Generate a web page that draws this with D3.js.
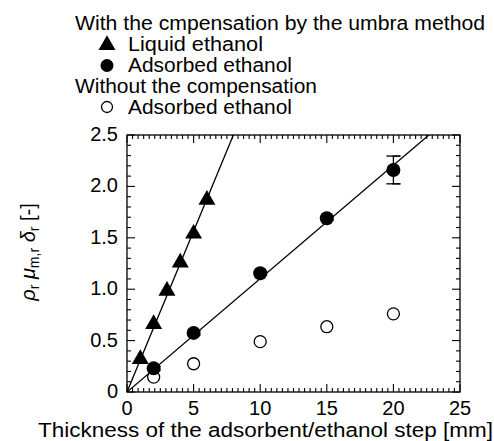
<!DOCTYPE html>
<html><head><meta charset="utf-8">
<script src="https://cdn.jsdelivr.net/npm/d3@7"></script>
<style>body{margin:0;background:#fff}svg{display:block}text{font-family:"Liberation Sans",Arial,sans-serif;fill:#000}</style>
</head><body>
<script>
const liquidX = [1, 2, 3, 4, 5, 6];
const liquidY = [0.31, 0.65, 0.975, 1.25, 1.53, 1.86];
const adsX = [2, 5, 10, 15, 20];
const adsY = [0.23, 0.575, 1.155, 1.69, 2.16];
const adsErr = [0.02, 0.02, 0.02, 0.02, 0.135];
const noCompX = [2, 5, 10, 15, 20];
const noCompY = [0.145, 0.275, 0.49, 0.635, 0.76];
const liquidSlope = 0.313;
const adsSlope = 0.1103;
const xTicks = [0, 5, 10, 15, 20, 25];
const yTicks = [0, 0.5, 1.0, 1.5, 2.0, 2.5];
const yTickLabels = ["0", "0.5", "1.0", "1.5", "2.0", "2.5"];
const legendLines = ["With the cmpensation by the umbra method", "Liquid ethanol", "Adsorbed ethanol", "Without the compensation", "Adsorbed ethanol"];

const W = 494, H = 441;
const L = 127, R = 460, T = 135, B = 392;
const svg = d3.select("body").append("svg").attr("width", W).attr("height", H);
const x = d3.scaleLinear().domain([0, 25]).range([L, R]);
const y = d3.scaleLinear().domain([0, 2.5]).range([B, T]);

svg.append("defs").append("clipPath").attr("id", "clip")
  .append("rect").attr("x", L).attr("y", T).attr("width", R - L).attr("height", B - T);

// ticks (inward on all sides)
const xMinor = d3.range(0, 25 + 1e-9, 5 / 12);
const yMinor = d3.range(0, 2.5 + 1e-9, 0.1);
const isMajorX = v => Math.abs(v / 5 - Math.round(v / 5)) < 1e-6;
const isMajorY = v => Math.abs(v / 0.5 - Math.round(v / 0.5)) < 1e-6;
const tg = svg.append("g").attr("stroke", "#000").attr("stroke-width", 1.1);
xMinor.forEach(v => {
  const len = isMajorX(v) ? 8 : 4;
  tg.append("line").attr("x1", x(v)).attr("x2", x(v)).attr("y1", B).attr("y2", B - len);
  tg.append("line").attr("x1", x(v)).attr("x2", x(v)).attr("y1", T).attr("y2", T + len);
});
yMinor.forEach(v => {
  const len = isMajorY(v) ? 8 : 4;
  tg.append("line").attr("y1", y(v)).attr("y2", y(v)).attr("x1", L).attr("x2", L + len);
  tg.append("line").attr("y1", y(v)).attr("y2", y(v)).attr("x1", R).attr("x2", R - len);
});
svg.append("rect").attr("x", L).attr("y", T).attr("width", R - L).attr("height", B - T)
  .attr("fill", "none").attr("stroke", "#000").attr("stroke-width", 1.3);

// tick labels
svg.append("g").selectAll("text").data(xTicks).join("text")
  .attr("x", d => x(d)).attr("y", 415).attr("text-anchor", "middle")
  .attr("font-size", 20).text(d => d);
svg.append("g").selectAll("text").data(yTicks).join("text")
  .attr("x", 118).attr("y", d => y(d) + 6).attr("text-anchor", "end")
  .attr("font-size", 20).text((d, i) => yTickLabels[i]);

// fit lines
const pg = svg.append("g").attr("clip-path", "url(#clip)");
const line = d3.line().x(d => x(d[0])).y(d => y(d[1]));
pg.append("path").attr("d", line([[0, 0], [25, 25 * liquidSlope]])).attr("stroke", "#000").attr("stroke-width", 1.3).attr("fill", "none");
pg.append("path").attr("d", line([[0, 0], [25, 25 * adsSlope]])).attr("stroke", "#000").attr("stroke-width", 1.3).attr("fill", "none");

// open circles
const tri = d3.symbol().type(d3.symbolTriangle).size(125);
svg.append("g").selectAll("circle").data(noCompX).join("circle")
  .attr("cx", d => x(d)).attr("cy", (d, i) => y(noCompY[i])).attr("r", 6)
  .attr("fill", "#fff").attr("stroke", "#000").attr("stroke-width", 1.3);
// error bars
const eg = svg.append("g").attr("stroke", "#000").attr("stroke-width", 1.3);
adsX.forEach((d, i) => {
  const y1 = y(adsY[i] + adsErr[i]), y2 = y(adsY[i] - adsErr[i]);
  eg.append("line").attr("x1", x(d)).attr("x2", x(d)).attr("y1", y1).attr("y2", y2);
  eg.append("line").attr("x1", x(d) - 1).attr("x2", x(d) + 7).attr("y1", y1).attr("y2", y1);
  eg.append("line").attr("x1", x(d) - 1).attr("x2", x(d) + 7).attr("y1", y2).attr("y2", y2);
  if (adsErr[i] > 0.05) {
    eg.append("line").attr("x1", x(d) - 7).attr("x2", x(d) + 7).attr("y1", y1).attr("y2", y1);
    eg.append("line").attr("x1", x(d) - 7).attr("x2", x(d) + 7).attr("y1", y2).attr("y2", y2);
  }
});
svg.append("g").selectAll("circle").data(adsX).join("circle")
  .attr("cx", d => x(d)).attr("cy", (d, i) => y(adsY[i])).attr("r", 7).attr("fill", "#000");
svg.append("g").selectAll("path").data(liquidX).join("path")
  .attr("d", tri).attr("transform", (d, i) => `translate(${x(d)},${y(liquidY[i]) - 1})`).attr("fill", "#000");

// legend
const base = [29.5, 51, 72, 93, 114];
const lx = [75, 128, 128, 75, 128];
const lw = [410, 135, 164, 242, 164];
legendLines.forEach((t, i) => {
  svg.append("text").attr("x", lx[i]).attr("y", base[i]).attr("font-size", 20)
    .attr("textLength", lw[i]).attr("lengthAdjust", "spacingAndGlyphs").text(t);
});
svg.append("path").attr("d", tri).attr("transform", "translate(107,45)").attr("fill", "#000");
svg.append("circle").attr("cx", 107).attr("cy", 65.5).attr("r", 6.5).attr("fill", "#000");
svg.append("circle").attr("cx", 107).attr("cy", 107).attr("r", 5.5).attr("fill", "#fff").attr("stroke", "#000").attr("stroke-width", 1.3);

// axis titles
svg.append("text").attr("x", 38).attr("y", 437).attr("font-size", 20)
  .attr("textLength", 455).attr("lengthAdjust", "spacingAndGlyphs")
  .text("Thickness of the adsorbent/ethanol step [mm]");
const yt = svg.append("text").attr("transform", "translate(35,252) rotate(-90)").attr("text-anchor", "middle").attr("font-size", 20);
yt.append("tspan").attr("font-style", "italic").text("ρ");
yt.append("tspan").attr("font-size", 14).attr("dy", 4).text("r");
yt.append("tspan").attr("dy", -4).text(" ");
yt.append("tspan").attr("font-style", "italic").text("μ");
yt.append("tspan").attr("font-size", 14).attr("dy", 4).text("m,r");
yt.append("tspan").attr("dy", -4).text(" ");
yt.append("tspan").attr("font-style", "italic").text("δ");
yt.append("tspan").attr("font-size", 14).attr("dy", 4).text("r");
yt.append("tspan").attr("dy", -4).text(" [-]");
</script>
</body></html>
